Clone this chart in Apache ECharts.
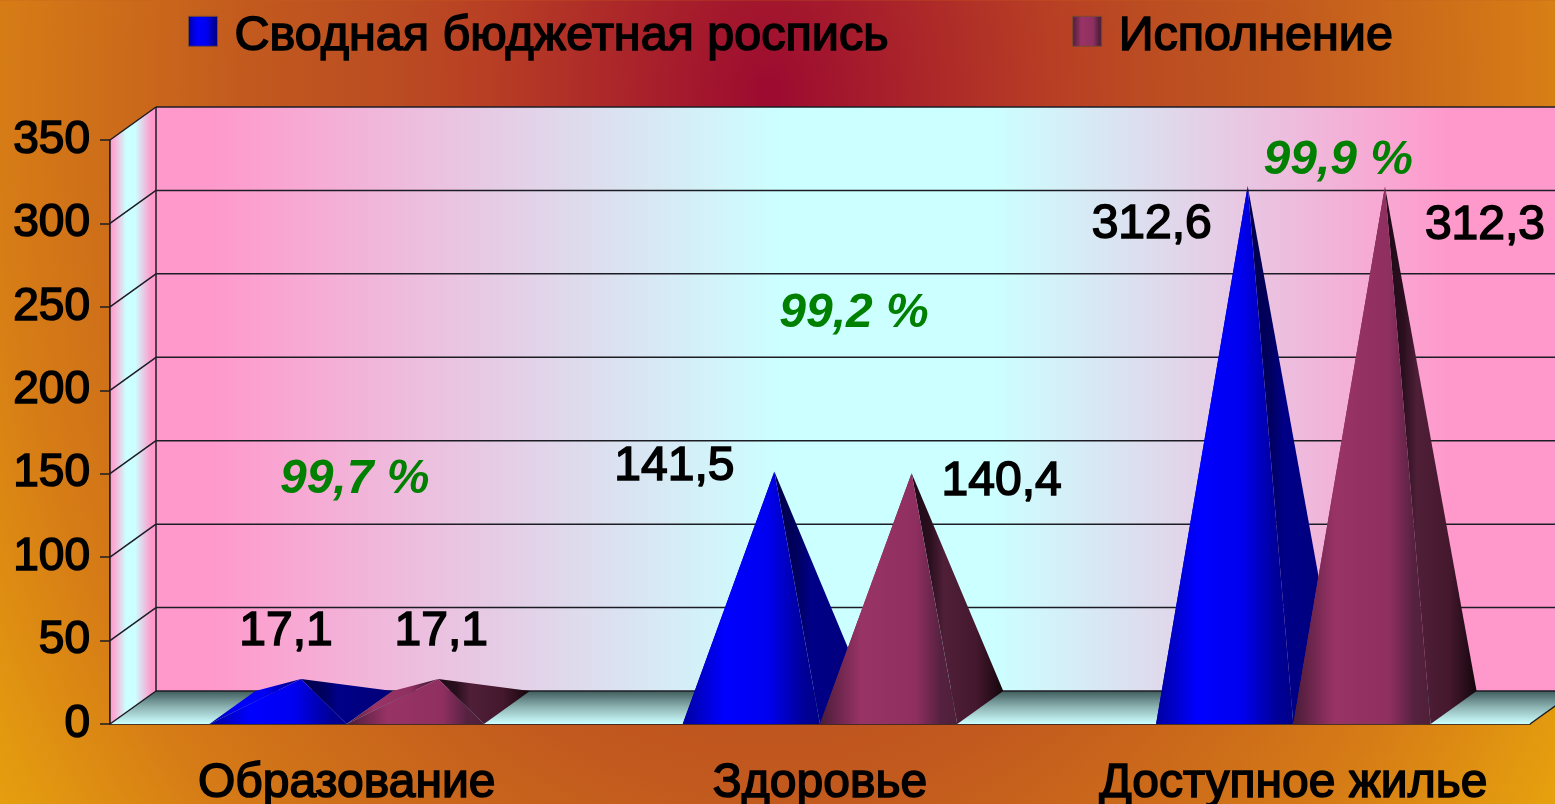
<!DOCTYPE html>
<html>
<head>
<meta charset="utf-8">
<title>Исполнение бюджета</title>
<style>
html,body{margin:0;padding:0;width:100%;height:100%;overflow:hidden;}
#main{width:1555px;height:804px;}
</style>
<script src="https://cdn.jsdelivr.net/npm/echarts@6/dist/echarts.min.js"></script>
</head>
<body>
<div id="main"></div>
<script>
var categories = ['Образование', 'Здоровье', 'Доступное жилье'];
var yTicks = [0, 50, 100, 150, 200, 250, 300, 350];
var planName = 'Сводная бюджетная роспись';
var execName = 'Исполнение';
var planValues = [17.1, 141.5, 312.6];
var execValues = [17.1, 140.4, 312.3];
var pctLabels = ['99,7 %', '99,2 %', '99,9 %'];

// depth of the fake 3d box, px
var DEPTH_X = 46;
var DEPTH_Y = 33;
var BAR_SHARE = 0.29; // one pyramid as share of the category band
var FONT = '"Liberation Sans", Arial, sans-serif';
var LINE = '#1c1c24';
var TEXT_BOLD = 1.6; // the original text is a thickened regular face

// label offsets from the apex, placed by hand in the original
var planLabelOffset = [[-15, -47], [-100, -5], [-96, 39]];
var execLabelOffset = [[3, -47], [90, 9], [100, 39]];
// percent labels, offset from category centre on the zero line
var pctOffset = [[8, -244], [34, -410], [45, -563]];

function hGrad(stops) {
	var list = [];
	for (var i = 0; i < stops.length; i++) {
		list.push({offset: stops[i][0], color: stops[i][1]});
	}
	return new echarts.graphic.LinearGradient(0, 0, 1, 0, list);
}

var wallFill = [[0, '#ff99cc'], [0.04, '#ff99cc'], [0.44, '#ccffff'], [0.59, '#ccffff'], [0.91, '#ff99cc'], [1, '#ff99cc']];
var sideWallFill = [[0, '#ff99cc'], [0.12, '#f8b4d8'], [0.35, '#ccffff'], [0.55, '#ccffff'], [0.9, '#ff99cc'], [1, '#ff99cc']];
var blueFront = [[0, '#0000a0'], [0.3, '#0000ff'], [0.62, '#0000f0'], [0.88, '#000098'], [1, '#000088']];
var blueSide = [[0, '#000048'], [0.25, '#000060'], [0.4, '#000088'], [1, '#000078']];
var purpleFront = [[0, '#4a1c38'], [0.3, '#993366'], [0.7, '#8f2f60'], [0.88, '#552140'], [1, '#4f1f38']];
var purpleSide = [[0, '#1f0a16'], [0.2, '#2a0f1e'], [0.35, '#4f1f38'], [0.7, '#45182e'], [1, '#14060c']];

function poly(points, fill, z2) {
	return {type: 'polygon', z2: z2 || 0, shape: {points: points}, style: {fill: fill}};
}

function seg(x1, y1, x2, y2) {
	return {type: 'line', z2: 5, shape: {x1: x1, y1: y1, x2: x2, y2: y2}, style: {stroke: LINE, lineWidth: 1.5}};
}

// walls, floor and grid lines of the box
function renderBox(params, api) {
	var sys = params.coordSys;
	var left = sys.x, right = sys.x + sys.width;
	var top = api.coord([0, yTicks[yTicks.length - 1]])[1];
	var bottom = api.coord([0, 0])[1];
	var kids = [];
	kids.push(poly([[left + DEPTH_X, top - DEPTH_Y], [right + DEPTH_X, top - DEPTH_Y], [right + DEPTH_X, bottom - DEPTH_Y], [left + DEPTH_X, bottom - DEPTH_Y]], hGrad(wallFill)));
	kids.push(poly([[left, top], [left + DEPTH_X, top - DEPTH_Y], [left + DEPTH_X, bottom - DEPTH_Y], [left, bottom]], hGrad(sideWallFill)));
	kids.push(poly([[left, bottom], [left + DEPTH_X, bottom - DEPTH_Y], [right + DEPTH_X, bottom - DEPTH_Y], [right, bottom]],
		new echarts.graphic.LinearGradient(0, 0, 0, 1, [{offset: 0, color: '#3f5c5c'}, {offset: 0.5, color: '#8fb5b5'}, {offset: 1, color: '#ccffff'}])));
	for (var i = 0; i < yTicks.length; i++) {
		var y = api.coord([0, yTicks[i]])[1];
		kids.push(seg(left, y, left + DEPTH_X, y - DEPTH_Y));
		kids.push(seg(left + DEPTH_X, y - DEPTH_Y, right + DEPTH_X, y - DEPTH_Y));
	}
	kids.push(seg(left, top, left, bottom));
	kids.push(seg(left + DEPTH_X, top - DEPTH_Y, left + DEPTH_X, bottom - DEPTH_Y));
	kids.push(seg(right, bottom, right + DEPTH_X, bottom - DEPTH_Y));
	return {type: 'group', children: kids};
}

// side: -1 pyramid left of the category centre, 0 right of it
function pyramidRenderer(side, front, sideFace, labelOffset) {
	return function (params, api) {
		var cat = api.value(0);
		var val = api.value(1);
		var base = api.coord([cat, 0]);
		var band = api.size([1, 0])[0];
		var w = band * BAR_SHARE;
		var x0 = base[0] + side * w;
		var x1 = x0 + w;
		var yf = base[1];
		var apexX = x0 + w / 2 + DEPTH_X / 2;
		var apexY = api.coord([cat, val])[1] - DEPTH_Y / 2;
		var apex = [apexX, apexY];
		var off = labelOffset[params.dataIndex];
		return {type: 'group', children: [
			poly([[x0, yf], [x0 + DEPTH_X, yf - DEPTH_Y], apex], hGrad(front), 1),
			poly([[x1, yf], [x1 + DEPTH_X, yf - DEPTH_Y], apex], hGrad(sideFace), 2),
			poly([[x0, yf], [x1, yf], apex], hGrad(front), 3),
			{type: 'text', z2: 10, style: {
				text: val.toFixed(1).replace('.', ','),
				x: apexX + off[0], y: apexY + off[1],
				align: 'center', verticalAlign: 'middle',
				font: '48px ' + FONT, fill: '#000', stroke: '#000', lineWidth: TEXT_BOLD
			}}
		]};
	};
}

function renderPct(params, api) {
	var base = api.coord([api.value(0), 0]);
	var off = pctOffset[params.dataIndex];
	return {type: 'text', style: {
		text: pctLabels[params.dataIndex],
		x: base[0] + off[0], y: base[1] + off[1],
		align: 'center', verticalAlign: 'middle',
		font: 'italic bold 48px ' + FONT, fill: '#008000'
	}};
}

function toData(values) {
	var rows = [];
	for (var i = 0; i < values.length; i++) rows.push([i, values[i]]);
	return rows;
}

var myChart = echarts.init(document.getElementById('main'));
var option = {
	animation: false,
	backgroundColor: '#c65f1c',
	// background glow is wider than tall, so the circle gradient is squeezed with scaleY
	graphic: [{
		type: 'rect',
		z: -10,
		silent: true,
		originY: 95,
		scaleY: 1 / 0.75,
		shape: {x: 0, y: 24, width: 1555, height: 604},
		style: {
			fill: new echarts.graphic.RadialGradient(770, 95, 940, [
				{offset: 0, color: '#9c0a30'},
				{offset: 0.3, color: '#b83e24'},
				{offset: 0.4, color: '#bb4c22'},
				{offset: 0.56, color: '#c25a1e'},
				{offset: 0.82, color: '#d67c16'},
				{offset: 1, color: '#e6a00e'}
			], true)
		}
	}],
	legend: {
		left: 188,
		top: 11,
		padding: 0,
		itemWidth: 29,
		itemHeight: 30,
		itemGap: 183,
		// rich token so the text can sit a little lower than the icon
		formatter: function (name) {
			return '{t|' + name + '}';
		},
		textStyle: {
			rich: {
				t: {fontFamily: FONT, fontSize: 48.5, color: '#000', textBorderColor: '#000', textBorderWidth: TEXT_BOLD, padding: [10, 0, 0, 12]}
			}
		},
		data: [
			{name: planName, icon: 'rect', itemStyle: {color: hGrad(blueFront), borderColor: '#7a4a30', borderWidth: 1}},
			{name: execName, icon: 'rect', itemStyle: {color: hGrad(purpleFront), borderColor: '#7a4a30', borderWidth: 1}}
		]
	},
	grid: {left: 110, top: 140, width: 1420, height: 584, outerBoundsMode: 'none'},
	xAxis: {
		type: 'category',
		data: categories,
		axisLine: {lineStyle: {color: LINE, width: 1.5}},
		axisTick: {length: 10, lineStyle: {color: LINE, width: 1.5}},
		axisLabel: {margin: 36, fontFamily: FONT, fontSize: 48, color: '#000', textBorderColor: '#000', textBorderWidth: TEXT_BOLD, interval: 0}
	},
	yAxis: {
		type: 'value',
		min: 0,
		max: 350,
		interval: 50,
		axisLine: {show: true, lineStyle: {color: LINE, width: 1.5}},
		axisTick: {show: true, length: 10, lineStyle: {color: LINE, width: 1.5}},
		splitLine: {show: false},
		axisLabel: {margin: 20, fontFamily: FONT, fontSize: 46, color: '#000', textBorderColor: '#000', textBorderWidth: TEXT_BOLD, padding: [0, 0, 4, 0]}
	},
	series: [
		{type: 'custom', name: 'box', z: 1, clip: false, silent: true, renderItem: renderBox, encode: {x: 0, y: 1}, data: [[0, 0]]},
		{type: 'custom', name: planName, z: 3, clip: false, renderItem: pyramidRenderer(-1, blueFront, blueSide, planLabelOffset), encode: {x: 0, y: 1}, data: toData(planValues)},
		{type: 'custom', name: execName, z: 4, clip: false, renderItem: pyramidRenderer(0, purpleFront, purpleSide, execLabelOffset), encode: {x: 0, y: 1}, data: toData(execValues)},
		{type: 'custom', name: 'pct', z: 5, clip: false, renderItem: renderPct, encode: {x: 0, y: 1}, data: toData([0, 0, 0])}
	]
};
myChart.setOption(option);
</script>
</body>
</html>
